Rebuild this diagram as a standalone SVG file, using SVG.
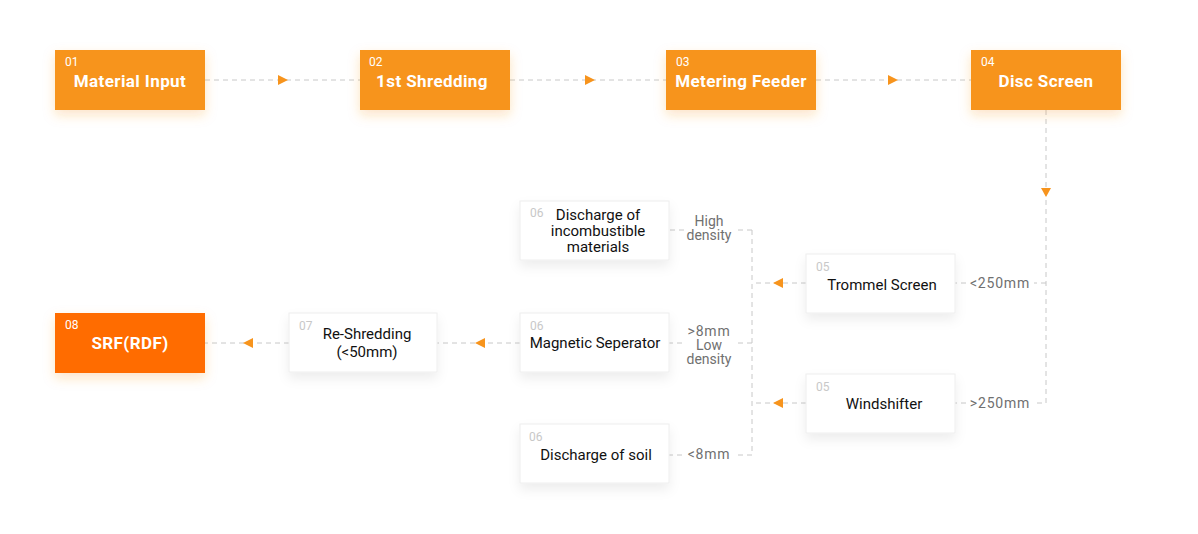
<svg xmlns="http://www.w3.org/2000/svg" width="1198" height="534" viewBox="0 0 1198 534">
<defs>
<filter id="sho" x="-30%" y="-40%" width="160%" height="200%"><feDropShadow dx="0" dy="5" stdDeviation="6" flood-color="#f7941d" flood-opacity="0.25"/></filter>
<filter id="shw" x="-30%" y="-40%" width="160%" height="200%"><feDropShadow dx="0" dy="6" stdDeviation="6" flood-color="#000" flood-opacity="0.07"/></filter>
</defs>
<style>
.o{fill:#f7941d;filter:url(#sho)}
.o8{fill:#ff6c00;filter:url(#sho)}
.w{fill:#fff;stroke:#eeeeee;stroke-width:1;filter:url(#shw)}
.ot{font-family:Roboto,"Liberation Sans",sans-serif;font-weight:bold;font-size:17px;letter-spacing:0.4px;fill:#fff;text-anchor:middle}
.on{font-family:Roboto,"Liberation Sans",sans-serif;font-size:12px;fill:#fff}
.wt{font-family:Roboto,"Liberation Sans",sans-serif;font-size:15px;fill:#111;text-anchor:middle}
.wn{font-family:Roboto,"Liberation Sans",sans-serif;font-size:12px;fill:#c8c8c8}
.lb{font-family:Roboto,"Liberation Sans",sans-serif;font-size:14px;fill:#707070;text-anchor:middle}
.lw{letter-spacing:0.8px}
.c{fill:none;stroke:#c8c8c8;stroke-width:1;stroke-dasharray:5 4}
</style>
<rect width="1198" height="534" fill="#fff"/>
<g id="connectors">
<path class="c" d="M205,80 H360"/>
<path class="c" d="M510,80 H666"/>
<path class="c" d="M816,80 H971"/>
<path class="c" d="M1046,110 V403 H1034"/>
<path class="c" d="M1046,283 H1034"/>
<path class="c" d="M966,283 H955"/>
<path class="c" d="M966,403 H955"/>
<path class="c" d="M806,283 H752"/>
<path class="c" d="M806,403 H752"/>
<path class="c" d="M752,230 V455 H738"/>
<path class="c" d="M752,230 H736"/>
<path class="c" d="M684,230 H669"/>
<path class="c" d="M752,343 H738"/>
<path class="c" d="M682,343 H669"/>
<path class="c" d="M682,455 H669"/>
<path class="c" d="M520,343 H437"/>
<path class="c" d="M289,343 H205"/>
<path d="M278,75 L288,80 L278,85 z" fill="#f7941d"/>
<path d="M585,75 L595,80 L585,85 z" fill="#f7941d"/>
<path d="M888,75 L898,80 L888,85 z" fill="#f7941d"/>
<path d="M1041,188 L1051,188 L1046,197 z" fill="#f7941d"/>
<path d="M783,278 L773,283 L783,288 z" fill="#f7941d"/>
<path d="M783,398 L773,403 L783,408 z" fill="#f7941d"/>
<path d="M485,338 L475,343 L485,348 z" fill="#f7941d"/>
<path d="M253,338 L243,343 L253,348 z" fill="#f7941d"/>
<text class="lb lw" x="1000" y="288">&lt;250mm</text>
<text class="lb lw" x="1000" y="408">&gt;250mm</text>
<text class="lb" x="709" y="226">High</text>
<text class="lb" x="709" y="240">density</text>
<text class="lb lw" x="709" y="336">&gt;8mm</text>
<text class="lb" x="709" y="350">Low</text>
<text class="lb" x="709" y="364">density</text>
<text class="lb lw" x="709" y="459">&lt;8mm</text>
</g>
<g id="n01"><rect class="o" x="55" y="50" width="150" height="60"/><text class="on" x="65" y="66">01</text><text class="ot" x="130" y="87">Material Input</text></g>
<g id="n02"><rect class="o" x="360" y="50" width="150" height="60"/><text class="on" x="369" y="66">02</text><text class="ot" x="432" y="87">1st Shredding</text></g>
<g id="n03"><rect class="o" x="666" y="50" width="150" height="60"/><text class="on" x="676" y="66">03</text><text class="ot" x="741" y="87">Metering Feeder</text></g>
<g id="n04"><rect class="o" x="971" y="50" width="150" height="60"/><text class="on" x="981" y="66">04</text><text class="ot" x="1046" y="87">Disc Screen</text></g>
<g id="n05a"><rect class="w" x="806" y="254" width="149" height="59"/><text class="wn" x="816" y="271">05</text><text class="wt" x="882" y="290">Trommel Screen</text></g>
<g id="n05b"><rect class="w" x="806" y="374" width="149" height="59"/><text class="wn" x="816" y="391">05</text><text class="wt" x="884" y="409">Windshifter</text></g>
<g id="n06a"><rect class="w" x="520" y="201" width="149" height="59"/><text class="wn" x="530" y="217">06</text><text class="wt" x="598" y="220">Discharge of</text><text class="wt" x="598" y="236">incombustible</text><text class="wt" x="598" y="252">materials</text></g>
<g id="n06b"><rect class="w" x="520" y="313" width="149" height="59"/><text class="wn" x="530" y="330">06</text><text class="wt" x="595" y="348">Magnetic Seperator</text></g>
<g id="n06c"><rect class="w" x="520" y="424" width="149" height="59"/><text class="wn" x="529" y="441">06</text><text class="wt" x="596" y="460">Discharge of soil</text></g>
<g id="n07"><rect class="w" x="289" y="313" width="148" height="59"/><text class="wn" x="299" y="330">07</text><text class="wt" x="367" y="339">Re-Shredding</text><text class="wt" x="367" y="357">(&lt;50mm)</text></g>
<g id="n08"><rect class="o8" x="55" y="313" width="150" height="60"/><text class="on" x="65" y="329">08</text><text class="ot" x="130" y="349">SRF(RDF)</text></g>
</svg>
